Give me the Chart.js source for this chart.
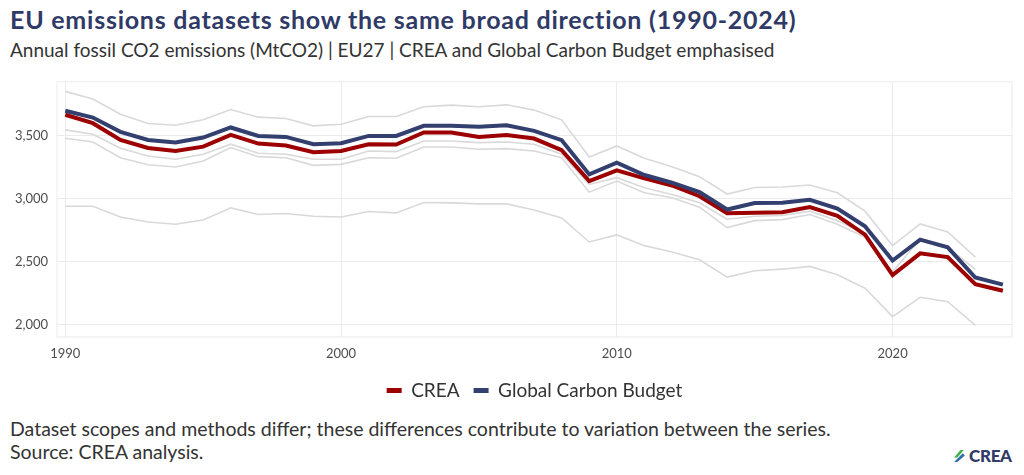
<!DOCTYPE html>
<html>
<head>
<meta charset="utf-8">
<script src="https://cdn.jsdelivr.net/npm/chart.js@4"></script>
<style>
  body { margin: 0; background: #fff; font-family: Lato, "Noto Sans", sans-serif; }
  #page { position: relative; width: 1024px; height: 475px; overflow: hidden; }
  #title { position: absolute; left: 10px; top: 4px; font-size: 25px; letter-spacing: 0.75px; font-weight: 700; color: #2f3a66; white-space: nowrap; }
  #subtitle { position: absolute; left: 10px; top: 38px; font-size: 19px; color: #333; white-space: nowrap; }
  #chartHolder { position: absolute; left: 0; top: 65px; width: 1024px; height: 347px; }
  #footer { position: absolute; left: 10px; top: 417px; font-size: 19.5px; color: #333; line-height: 23px; white-space: nowrap; }
  #logo { position: absolute; left: 953px; top: 445px; display: flex; align-items: center; }
  #logo span { font-weight: 900; font-size: 17px; color: #2f3a66; margin-left: 3px; letter-spacing: -0.3px; }
</style>
</head>
<body>
<div id="page">
  <div id="title">EU emissions datasets show the same broad direction (1990-2024)</div>
  <div id="subtitle">Annual fossil CO2 emissions (MtCO2) | EU27 | CREA and Global Carbon Budget emphasised</div>
  <div id="chartHolder"><canvas id="chart"></canvas></div>
  <div id="footer">Dataset scopes and methods differ; these differences contribute to variation between the series.<br>Source: CREA analysis.</div>
  <div id="logo">
    <svg width="13" height="14" viewBox="0 0 12 13">
      <path d="M1 8 L7 1 L10 1 L4 8 Z" fill="#3fae49"/>
      <path d="M1 12 L9 4 L11 6 L4 12 Z" fill="#2f6fa8"/>
    </svg>
    <span>CREA</span>
  </div>
</div>

<script>
const years = [];
for (let y = 1990; y <= 2024; y++) years.push(y);

const crea = [3668, 3601, 3468, 3404, 3380, 3415, 3508, 3439, 3423, 3370,
              3380, 3434, 3431, 3527, 3527, 3492, 3508, 3479, 3386, 3141,
              3226, 3162, 3106, 3021, 2885, 2890, 2894, 2934, 2865, 2715,
              2394, 2567, 2537, 2322, 2269];

const globalCarbonBudget = [3700, 3646, 3532, 3468, 3447, 3487, 3567, 3500, 3492, 3434,
                            3442, 3500, 3500, 3580, 3580, 3572, 3585, 3540, 3466, 3194,
                            3287, 3189, 3128, 3053, 2915, 2966, 2968, 2992, 2923, 2782,
                            2510, 2676, 2615, 2375, 2318];

// other datasets, shown in grey without a legend entry
const otherA = [3854, 3793, 3673, 3598, 3585, 3628, 3710, 3649, 3638, 3580,
                3593, 3654, 3654, 3732, 3745, 3732, 3747, 3705, 3628, 3333,
                3420, 3322, 3255, 3176, 3038, 3090, 3094, 3110, 3048, 2902,
                2628, 2801, 2737, 2537, null];

const otherB = [3548, 3513, 3402, 3340, 3314, 3354, 3434, 3362, 3354, 3314,
                3314, 3380, 3375, 3460, 3460, 3447, 3452, 3434, 3354, 3114,
                3168, 3088, 3035, 2968, 2838, 2862, 2867, 2902, 2825, 2725,
                2420, 2680, 2615, 2440, null];

const otherC = [3481, 3452, 3327, 3271, 3253, 3301, 3407, 3335, 3327, 3266,
                3274, 3327, 3322, 3412, 3412, 3394, 3399, 3380, 3327, 3053,
                3141, 3048, 3008, 2934, 2772, 2827, 2835, 2875, 2798, 2695,
                2390, 2558, 2528, null, null];

const otherD = [2941, 2941, 2856, 2816, 2798, 2832, 2928, 2875, 2883, 2862,
                2856, 2899, 2888, 2971, 2968, 2960, 2960, 2912, 2848, 2657,
                2713, 2628, 2577, 2516, 2378, 2428, 2441, 2463, 2396, 2290,
                2064, 2218, 2183, 1995, null];

const xTicks = [1990, 2000, 2010, 2020];
const yTicks = [2000, 2500, 3000, 3500];

const FONT = "Lato, 'Noto Sans', sans-serif";
const grey = "#d9d9d9";
const gridColor = "#ebebeb";

function toPoints(values)
{
    return values.map((v, i) => ({ x: years[i], y: v }));
}

function greyLine(name, values)
{
    return {
        label: name,
        data: toPoints(values),
        borderColor: grey,
        borderWidth: 1.6,
        pointRadius: 0,
        order: 3
    };
}

// draws the light frame round the plot panel
const panelBorder = {
    id: "panelBorder",
    beforeDatasetsDraw(chart)
    {
        const a = chart.chartArea;
        const ctx = chart.ctx;
        ctx.save();
        ctx.strokeStyle = gridColor;
        ctx.lineWidth = 1;
        ctx.strokeRect(a.left, a.top, a.right - a.left, a.bottom - a.top);
        ctx.restore();
    }
};

new Chart(document.getElementById("chart"), {
    type: "line",
    data: {
        datasets: [
            {
                label: "CREA",
                data: toPoints(crea),
                borderColor: "#9c0000",
                backgroundColor: "#9c0000",
                borderWidth: 4,
                pointRadius: 0,
                order: 2
            },
            {
                label: "Global Carbon Budget",
                data: toPoints(globalCarbonBudget),
                borderColor: "#333f6e",
                backgroundColor: "#333f6e",
                borderWidth: 4,
                pointRadius: 0,
                order: 1
            },
            greyLine("Dataset A", otherA),
            greyLine("Dataset B", otherB),
            greyLine("Dataset C", otherC),
            greyLine("Dataset D", otherD)
        ]
    },
    options: {
        responsive: true,
        maintainAspectRatio: false,
        animation: false,
        spanGaps: false,
        layout: { padding: { top: 2, right: 12, left: 0, bottom: 2 } },
        plugins: {
            legend: {
                position: "bottom",
                fullSize: false,
                labels: {
                    generateLabels: chart => {
                        const items = Chart.defaults.plugins.legend.labels.generateLabels(chart);
                        items.forEach(it => { it.lineWidth = 0; it.strokeStyle = "transparent"; });
                        return items;
                    },
                    filter: item => item.datasetIndex < 2,
                    sort: (a, b) => a.datasetIndex - b.datasetIndex,
                    boxWidth: 15,
                    boxHeight: 5,
                    padding: 14,
                    color: "#333",
                    font: { family: FONT, size: 19 }
                }
            },
            tooltip: { enabled: false }
        },
        scales: {
            x: {
                type: "linear",
                min: 1989.7,
                max: 2024.33,
                afterBuildTicks: scale => { scale.ticks = xTicks.map(v => ({ value: v })); },
                afterFit: scale => { scale.height = 30; },
                grid: { color: gridColor, drawTicks: false },
                border: { display: false },
                ticks: {
                    color: "#4d4d4d",
                    padding: 9,
                    maxRotation: 0,
                    font: { family: FONT, size: 13 },
                    callback: v => String(v)
                }
            },
            y: {
                min: 1902,
                max: 3930,
                afterBuildTicks: scale => { scale.ticks = yTicks.map(v => ({ value: v })); },
                afterFit: scale => { scale.width = 57; },
                grid: { color: gridColor, drawTicks: false },
                border: { display: false },
                ticks: {
                    color: "#4d4d4d",
                    padding: 9,
                    font: { family: FONT, size: 13 },
                    callback: v => v.toLocaleString("en-US")
                }
            }
        }
    },
    plugins: [panelBorder]
});
</script>
</body>
</html>
